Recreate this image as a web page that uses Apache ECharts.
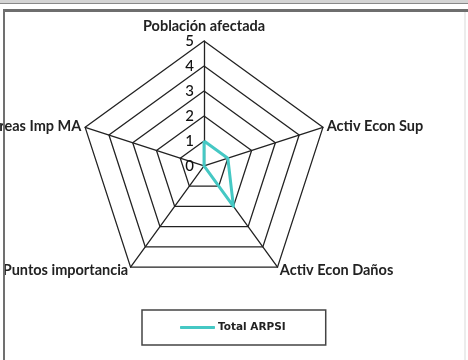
<!DOCTYPE html>
<html>
<head>
<meta charset="utf-8">
<script src="https://cdn.jsdelivr.net/npm/echarts@6/dist/echarts.min.js"></script>
<style>
  html, body { margin: 0; padding: 0; background: #fff; }
  #main { width: 468px; height: 360px; }
  .edge { position: absolute; pointer-events: none; }
</style>
</head>
<body>
<div id="main"></div>
<div class="edge" style="left:0;top:0;width:468px;height:3px;background:#d4d4d4"></div>
<div class="edge" style="left:0;top:3px;width:468px;height:1px;background:#888"></div>
<div class="edge" style="left:3px;top:9px;width:465px;height:3px;background:#6e6e6e"></div>
<div class="edge" style="left:3px;top:9px;width:2px;height:351px;background:#707070"></div>
<div class="edge" style="left:464px;top:12px;width:2px;height:348px;background:#ececec"></div>
<script>
// ejes del radar (en sentido horario, empezando arriba)
const indicadores = ['Población afectada', 'Activ Econ Sup', 'Activ Econ Daños', 'Puntos importancia', 'Áreas Imp MA']
const maxValor = 5
// valores de la serie
const serieNombre = 'Total ARPSI'
const serieValores = [1, 1, 2, 0, 0]

// echarts dibuja en sentido antihorario: reordenar
const orden = [0, 4, 3, 2, 1]

const chart = echarts.init(document.getElementById('main'))
chart.setOption({
  animation: false,
  textStyle: { fontFamily: 'Lato' },
  legend: {
    data: [serieNombre],
    left: 142,
    top: 310,
    padding: [12, 40, 12, 38],
    borderColor: '#444',
    borderWidth: 1.5,
    icon: 'roundRect',
    itemWidth: 35,
    itemHeight: 3,
    itemGap: 0,
    textStyle: {
      fontFamily: 'DejaVu Sans',
      fontSize: 10.5,
      fontWeight: 'bold',
      color: '#222',
      padding: [0, 0, 0, -2]
    }
  },
  radar: {
    center: ['43.6%', '46.1%'],
    radius: 125,
    shape: 'polygon',
    splitNumber: 5,
    startAngle: 90,
    nameGap: 4,
    axisName: {
      color: '#222',
      fontFamily: 'Lato',
      fontWeight: 'bold',
      fontSize: 14.5
    },
    axisLine: { lineStyle: { color: '#222', width: 1.3 } },
    splitLine: { lineStyle: { color: '#222', width: 1.3 } },
    splitArea: { show: false },
    axisTick: { show: false },
    axisLabel: { show: false },
    indicator: orden.map((k) => ({
      name: indicadores[k],
      min: 0,
      max: maxValor,
      axisLabel: k === 0
        ? { show: true, color: '#111', fontSize: 15, fontFamily: 'Lato', fontWeight: 500, margin: 10 }
        : { show: false }
    }))
  },
  series: [
    {
      name: serieNombre,
      type: 'radar',
      symbol: 'none',
      itemStyle: { color: '#45c8c4' },
      lineStyle: { color: '#45c8c4', width: 3 },
      data: [{ name: serieNombre, value: orden.map((k) => serieValores[k]) }]
    }
  ]
})
</script>
</body>
</html>
